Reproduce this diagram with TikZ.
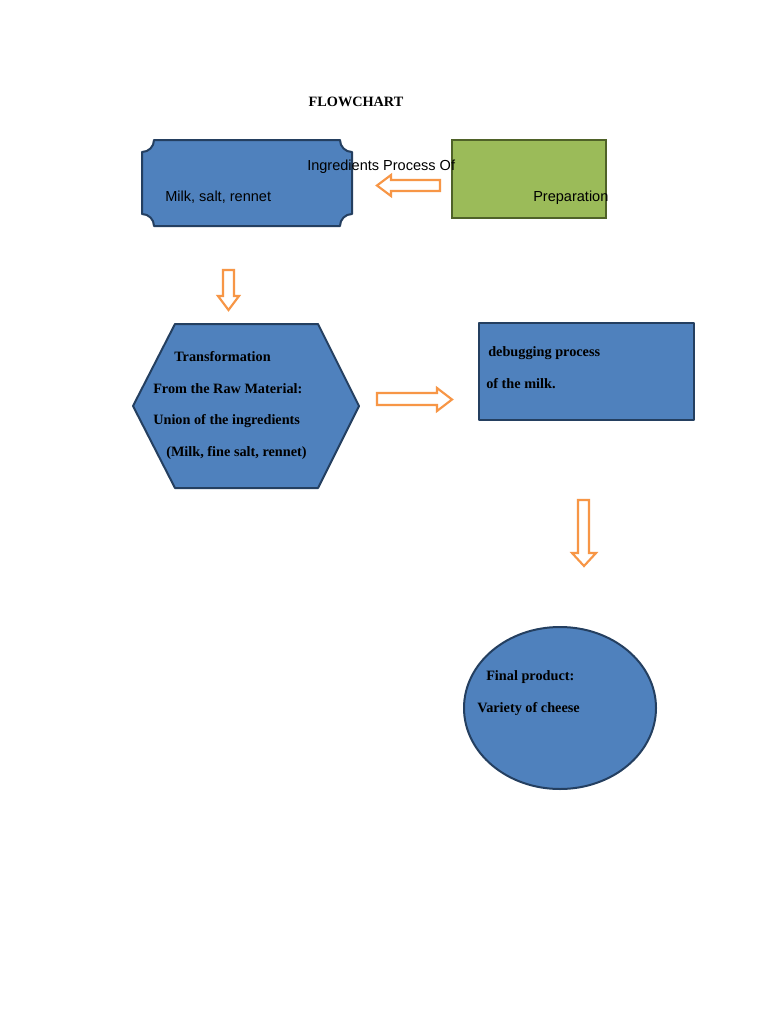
\documentclass[tikz,border=0pt]{standalone}
\usepackage{fontspec}
\setmainfont{Liberation Serif}
\newfontfamily\arialfont{Liberation Sans}
\definecolor{boxblue}{HTML}{4F81BD}
\definecolor{boxline}{HTML}{243F60}
\definecolor{boxgreen}{HTML}{9BBB59}
\definecolor{greenline}{HTML}{4F6228}
\definecolor{arroworange}{HTML}{F79646}
\begin{document}
\begin{tikzpicture}[x=0.75pt,y=-0.75pt,
  blueshape/.style={fill=boxblue,draw=boxline,line width=1.5pt,line join=round},
  greenshape/.style={fill=boxgreen,draw=greenline,line width=1.5pt},
  blockarrow/.style={fill=white,draw=arroworange,line width=1.6pt,line join=miter},
  serifbold/.style={font=\fontsize{10.7}{13}\selectfont\bfseries,inner sep=0pt,anchor=base west},
  sanstext/.style={font=\arialfont\fontsize{10.9}{13}\selectfont,inner sep=0pt,anchor=base west}]
\useasboundingbox (0,0) rectangle (768,1024);
\fill[white] (0,0) rectangle (768,1024);

% title
\node[serifbold,anchor=base] (title) at (356,107) {FLOWCHART};

% plaque
\draw[blueshape] (154,140) -- (340,140) .. controls (340,146.6) and (345.4,152) .. (352,152)
  -- (352,214) .. controls (345.4,214) and (340,219.4) .. (340,226)
  -- (154,226) .. controls (154,219.4) and (148.6,214) .. (142,214)
  -- (142,152) .. controls (148.6,152) and (154,146.6) .. (154,140) -- cycle;
\node[sanstext] (milk) at (165,201) {Milk, salt, rennet};

% green box
\draw[greenshape] (452,140) rectangle (606,218);
\node[sanstext] (prep) at (533,201) {Preparation};
\node[sanstext] (ingr) at (307,170) {Ingredients Process Of};

% left arrow
\draw[blockarrow] (440,180) -- (391,180) -- (391,175) -- (377,185.5) -- (391,196) -- (391,191) -- (440,191) -- cycle;

% down arrow 1
\draw[blockarrow] (223,270) -- (223,296) -- (218,296) -- (228.5,310) -- (239,296) -- (234,296) -- (234,270) -- cycle;

% hexagon
\draw[blueshape] (175,324) -- (318,324) -- (359,406) -- (318,488) -- (175,488) -- (133,406) -- cycle;
\node[serifbold] (h1) at (174,361) {Transformation};
\node[serifbold] (h2) at (153,393) {From the Raw Material:};
\node[serifbold] (h3) at (153,424) {Union of the ingredients};
\node[serifbold] (h4) at (166,456) {(Milk, fine salt, rennet)};

% right arrow
\draw[blockarrow] (377,393) -- (437,393) -- (437,388) -- (452,399.5) -- (437,411) -- (437,405) -- (377,405) -- cycle;

% debugging box
\draw[blueshape] (479,323) rectangle (694,420);
\node[serifbold] (d1) at (488,356) {debugging process};
\node[serifbold] (d2) at (486,388) {of the milk.};

% down arrow 2
\draw[blockarrow] (578,500) -- (578,553) -- (572,553) -- (584,566) -- (596,553) -- (589,553) -- (589,500) -- cycle;

% ellipse
\draw[blueshape] (560,708) ellipse [x radius=96, y radius=81];
\node[serifbold] (e1) at (486,680) {Final product:};
\node[serifbold] (e2) at (477,712) {Variety of cheese};
\end{tikzpicture}
\end{document}
